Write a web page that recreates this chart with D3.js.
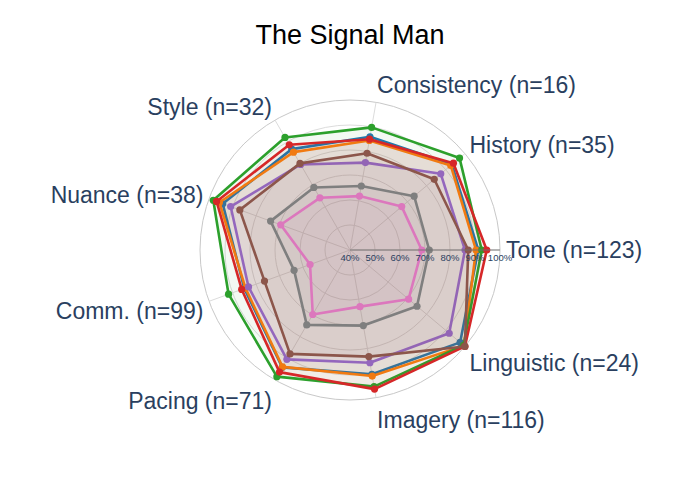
<!DOCTYPE html>
<html lang="en">
  <head>
    <meta charset="utf-8">
    <title>The Signal Man</title>
    <style>
      body { margin: 0; background: #fff; }
      svg { display: block; }
    </style>
    <script src="https://d3js.org/d3.v7.min.js"></script>
  </head>
  <body>
    <script>
      // categories around the circle, counter-clockwise from the right
      const categories = ['Tone (n=123)', 'History (n=35)', 'Consistency (n=16)', 'Style (n=32)',
                          'Nuance (n=38)', 'Comm. (n=99)', 'Pacing (n=71)', 'Imagery (n=116)', 'Linguistic (n=24)'];

      // series values in %, same order as categories
      const seriesA = [91.3, 93.2, 86.0, 86.6, 94.2, 85.0, 94.2, 90.5, 97.5];
      const seriesB = [90.4, 92.6, 84.5, 85.2, 95.6, 84.5, 94.0, 91.2, 99.5];
      const seriesC = [92.7, 97.2, 89.8, 92.0, 98.2, 91.7, 98.5, 95.5, 99.3];
      const seriesD = [94.7, 94.0, 85.0, 88.6, 96.8, 86.1, 96.4, 96.5, 100];
      const seriesE = [86.0, 87.4, 75.5, 79.5, 90.8, 83.2, 90.5, 85.8, 91.8];
      const seriesF = [87.3, 84.0, 79.3, 80.0, 86.9, 76.4, 88.0, 83.3, 100];
      const seriesG = [68.7, 67.0, 61.9, 64.1, 69.5, 57.0, 69.8, 63.0, 70.6];
      const seriesH = [71.7, 73.5, 66.0, 68.9, 73.8, 63.8, 74.6, 70.7, 75.0];

      const radialTicks = [40, 50, 60, 70, 80, 90, 100];

      const allSeries = [seriesA, seriesB, seriesC, seriesD, seriesE, seriesF, seriesG, seriesH];
      const colors = ['#1f77b4', '#ff7f0e', '#2ca02c', '#d62728', '#9467bd', '#8c564b', '#e377c2', '#7f7f7f'];

      const width = 700, height = 500;
      const cx = 350, cy = 250, R = 150;
      const font = '"Liberation Sans", Arial, Helvetica, sans-serif';

      const svg = d3.select('body').append('svg')
        .attr('width', width)
        .attr('height', height);

      const r = d3.scaleLinear().domain([40, 100]).range([0, R]);
      // angle in degrees, counter-clockwise from east
      const angle = d3.scaleLinear().domain([0, categories.length]).range([0, 360]);

      const toXY = (i, v) => {
        const a = angle(i) * Math.PI / 180;
        return [Math.cos(a) * r(v), -Math.sin(a) * r(v)];
      };

      svg.append('text')
        .attr('x', width / 2)
        .attr('y', 44)
        .attr('text-anchor', 'middle')
        .style('font-family', font)
        .style('font-size', '27px')
        .style('fill', '#000')
        .text('The Signal Man');

      const g = svg.append('g').attr('transform', `translate(${cx},${cy})`);

      // grid circles
      g.selectAll('circle.grid')
        .data(radialTicks.slice(1))
        .join('circle')
        .attr('class', 'grid')
        .attr('r', d => r(d))
        .attr('fill', 'none')
        .attr('stroke', d => d === 100 ? '#c8c8c8' : '#dcdcdc')
        .attr('stroke-width', 1);

      // spokes
      g.selectAll('line.spoke')
        .data(categories)
        .join('line')
        .attr('class', 'spoke')
        .attr('x1', 0).attr('y1', 0)
        .attr('x2', (d, i) => toXY(i, 100)[0])
        .attr('y2', (d, i) => toXY(i, 100)[1])
        .attr('stroke', '#dcdcdc')
        .attr('stroke-width', 1);

      const line = d3.line().curve(d3.curveLinearClosed);

      allSeries.forEach((vals, k) => {
        const pts = vals.map((v, i) => toXY(i, v));
        const tr = g.append('g');
        tr.append('path')
          .attr('d', line(pts))
          .attr('fill', colors[k])
          .attr('fill-opacity', 0.06)
          .attr('stroke', colors[k])
          .attr('stroke-width', 2.6)
          .attr('stroke-linejoin', 'round');
        tr.selectAll('circle')
          .data(pts)
          .join('circle')
          .attr('cx', d => d[0])
          .attr('cy', d => d[1])
          .attr('r', 3.6)
          .attr('fill', colors[k]);
      });

      // radial axis line and tick labels
      g.append('line')
        .attr('x1', 0).attr('y1', 0)
        .attr('x2', R).attr('y2', 0)
        .attr('stroke', 'rgba(110,110,110,0.45)')
        .attr('stroke-width', 2);

      g.selectAll('text.rtick')
        .data(radialTicks)
        .join('text')
        .attr('class', 'rtick')
        .attr('x', d => r(d))
        .attr('y', 11)
        .attr('text-anchor', 'middle')
        .style('font-family', font)
        .style('font-size', '9.5px')
        .style('fill', '#2a3f5f')
        .text(d => d + '%');

      // angular labels, placed just outside the outer circle
      const fs = 23, pad = 6;
      g.selectAll('text.alabel')
        .data(categories)
        .join('text')
        .attr('class', 'alabel')
        .each(function(d, i) {
          const a = angle(i) * Math.PI / 180;
          const c = Math.cos(a), s = Math.sin(a);
          const ff = s > 0 ? 0.2 : 1;
          d3.select(this)
            .attr('x', c * (R + pad))
            .attr('y', -s * (R + pad + fs * ff) + Math.abs(c) * fs * 0.35)
            .attr('text-anchor', Math.abs(c) < 0.1 ? 'middle' : (c > 0 ? 'start' : 'end'));
        })
        .style('font-family', font)
        .style('font-size', fs + 'px')
        .style('fill', '#2a3f5f')
        .text(d => d);
    </script>
  </body>
</html>
